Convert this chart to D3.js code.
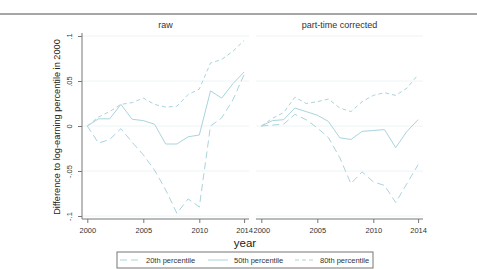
<!DOCTYPE html>
<html>
<head>
<meta charset="utf-8">
<style>
body { margin: 0; background: #fff; }
text { font-family: "Liberation Sans", Arial, sans-serif; }
</style>
<script src="https://d3js.org/d3.v7.min.js"></script>
</head>
<body>
<div id="chart"></div>
<script>
// years on the x axis
var years = [2000, 2001, 2002, 2003, 2004, 2005, 2006, 2007, 2008, 2009, 2010, 2011, 2012, 2013, 2014];
var xTicks = [2000, 2005, 2010, 2014];
var yTicks = [-0.1, -0.05, 0, 0.05, 0.1];
var yTickLabels = ["-.1", "-.05", "0", ".05", ".1"];
var panels = ["raw", "part-time corrected"];
var seriesNames = ["20th percentile", "50th percentile", "80th percentile"];

// raw
var raw20 = [0, -0.019, -0.015, -0.003, -0.018, -0.032, -0.049, -0.071, -0.097, -0.081, -0.090, 0.000, 0.009, 0.029, 0.057];
var raw50 = [0, 0.008, 0.008, 0.024, 0.0075, 0.006, 0.002, -0.020, -0.020, -0.012, -0.010, 0.039, 0.031, 0.047, 0.060];
var raw80 = [0, 0.010, 0.016, 0.024, 0.026, 0.031, 0.024, 0.021, 0.022, 0.035, 0.041, 0.070, 0.074, 0.083, 0.095];
// part-time corrected
var pt20 = [0, 0.001, 0.002, 0.013, 0.007, -0.002, -0.013, -0.035, -0.064, -0.051, -0.062, -0.066, -0.085, -0.064, -0.043];
var pt50 = [0, 0.006, 0.007, 0.020, 0.016, 0.012, 0.005, -0.013, -0.015, -0.006, -0.005, -0.004, -0.024, -0.006, 0.007];
var pt80 = [0, 0.0085, 0.015, 0.032, 0.025, 0.027, 0.030, 0.020, 0.016, 0.027, 0.034, 0.037, 0.034, 0.042, 0.057];

var panelData = [[raw20, raw50, raw80], [pt20, pt50, pt80]];
var dashes = ["7,4", null, "4,3"];
var lineColor = "#a9d4dd";

var W = 477, H = 269;
var svg = d3.select("#chart").append("svg").attr("width", W).attr("height", H);

// top rule
svg.append("line").attr("x1", 0).attr("x2", W).attr("y1", 14).attr("y2", 14)
    .attr("stroke", "#888").attr("stroke-width", 1.5);

var y = d3.scaleLinear().domain([-0.1, 0.1]).range([216, 36]);
var panelLeft = [82, 256], panelWidth = 167;
var plotTop = 33, plotBottom = 219;

panels.forEach(function(name, p) {
    var x0 = panelLeft[p];
    var x = d3.scaleLinear().domain([2000, 2014]).range([x0 + 5.3, x0 + 162.1]);
    var g = svg.append("g");

    // grid
    g.selectAll(".grid").data(yTicks).enter().append("line")
        .attr("x1", x0).attr("x2", x0 + panelWidth)
        .attr("y1", function(d) { return y(d); }).attr("y2", function(d) { return y(d); })
        .attr("stroke", "#eef4f6").attr("stroke-width", 1);

    // title
    g.append("text").attr("x", x0 + panelWidth / 2).attr("y", 28)
        .attr("text-anchor", "middle").attr("font-size", "9px").attr("fill", "#333")
        .text(name);

    // lines
    var line = d3.line().x(function(d, i) { return x(years[i]); }).y(function(d) { return y(d); });
    panelData[p].forEach(function(vals, s) {
        g.append("path").attr("d", line(vals)).attr("fill", "none")
            .attr("stroke", lineColor).attr("stroke-width", 1)
            .attr("stroke-dasharray", dashes[s]);
    });

    // x axis
    var xAxis = g.append("g").attr("transform", "translate(0," + plotBottom + ")")
        .call(d3.axisBottom(x).tickValues(xTicks).tickFormat(d3.format("d")).tickSize(4).tickSizeOuter(0));
    xAxis.select(".domain").attr("d", "M" + x0 + ",0H" + (x0 + panelWidth)).attr("stroke", "#777");
    xAxis.selectAll(".tick line").attr("stroke", "#777");
    xAxis.selectAll("text").attr("font-size", "7.5px").attr("fill", "#333").attr("dy", "0.9em")
        .style("font-family", "Liberation Sans, Arial, sans-serif");
});

// y axis
var yAxis = svg.append("g").attr("transform", "translate(82,0)")
    .call(d3.axisLeft(y).tickValues(yTicks).tickFormat(function(d, i) { return yTickLabels[i]; }).tickSize(4).tickSizeOuter(0));
yAxis.select(".domain").attr("d", "M0," + plotTop + "V" + plotBottom).attr("stroke", "#777");
yAxis.selectAll(".tick line").attr("stroke", "#777");
yAxis.selectAll("text").attr("font-size", "7.5px").attr("fill", "#333")
    .attr("x", 0).attr("dy", 0).attr("text-anchor", "middle")
    .attr("transform", "translate(-10,0) rotate(-90)")
    .style("font-family", "Liberation Sans, Arial, sans-serif");

// axis titles
svg.append("text").attr("transform", "translate(60,127) rotate(-90)")
    .attr("text-anchor", "middle").attr("font-size", "9.2px").attr("fill", "#222")
    .text("Difference to log-earning percentile in 2000");
svg.append("text").attr("x", 245).attr("y", 247).attr("text-anchor", "middle")
    .attr("font-size", "11.5px").attr("fill", "#222").text("year");

// legend
var legend = svg.append("g");
legend.append("rect").attr("x", 117).attr("y", 252).attr("width", 256).attr("height", 16)
    .attr("fill", "#fff").attr("stroke", "#777").attr("stroke-width", 1);
var legX = [120, 208, 295];
seriesNames.forEach(function(name, s) {
    legend.append("line").attr("x1", legX[s]).attr("x2", legX[s] + 20).attr("y1", 260).attr("y2", 260)
        .attr("stroke", lineColor).attr("stroke-dasharray", dashes[s]);
    legend.append("text").attr("x", legX[s] + (s === 2 ? 25 : 26)).attr("y", 262.5)
        .attr("font-size", "7.5px").attr("fill", "#333").text(name);
});
</script>
</body>
</html>
